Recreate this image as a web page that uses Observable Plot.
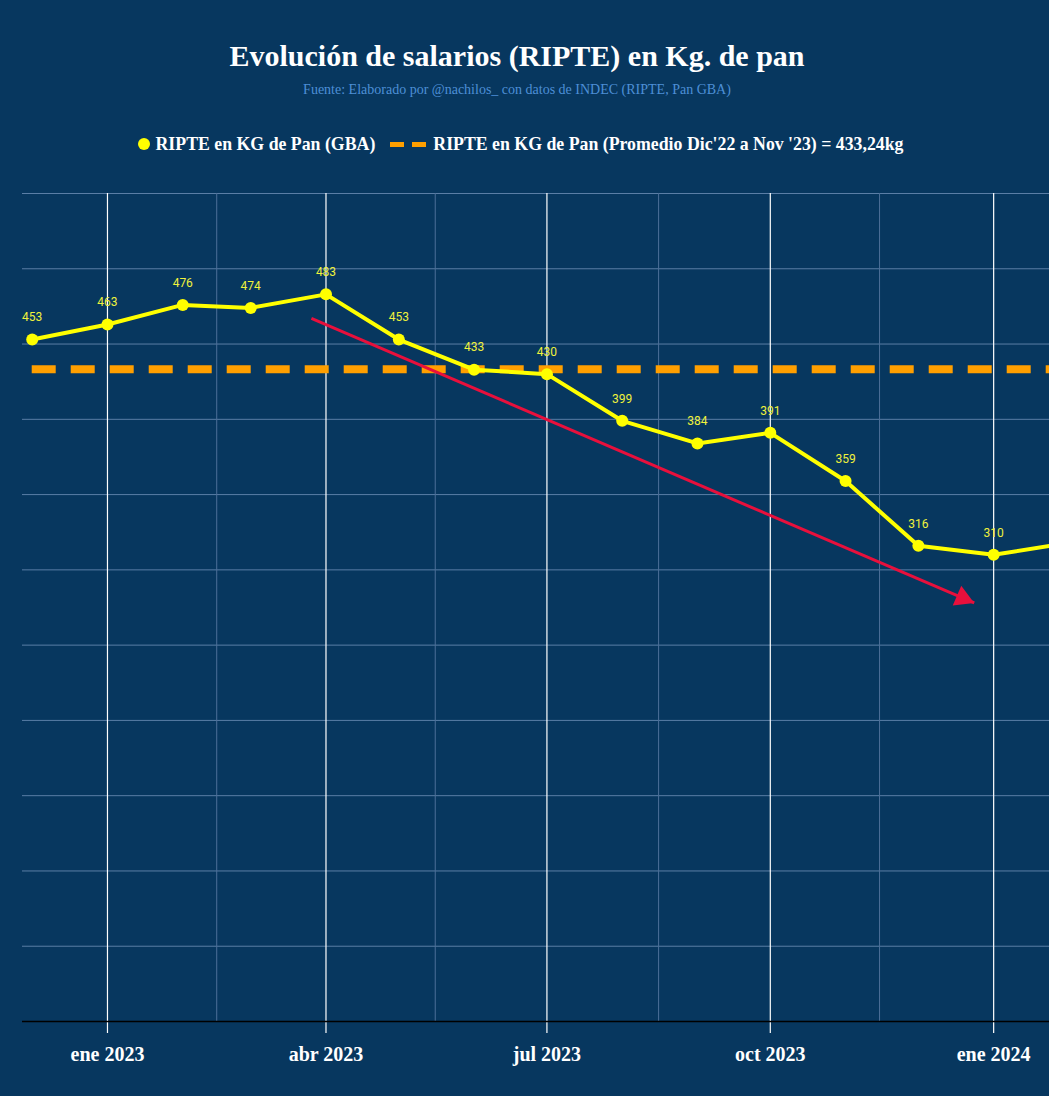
<!DOCTYPE html>
<html><head><meta charset="utf-8">
<script src="https://cdn.jsdelivr.net/npm/d3@7"></script>
<script src="https://cdn.jsdelivr.net/npm/@observablehq/plot@0.6"></script>
<style>
html,body{margin:0;padding:0;background:#07375f;overflow:hidden;width:1049px;height:1096px}
#hdr{height:170px;position:relative;font-family:"Liberation Serif","Times New Roman",serif;color:#fff}
#title{position:absolute;top:38px;left:0;width:1034px;text-align:center;font-weight:bold;font-size:30px;line-height:36px}
#sub{position:absolute;top:81px;left:0;width:1034px;text-align:center;font-size:14px;line-height:18px;color:#4d8fd6}
#legend{position:absolute;top:132px;left:0;width:1040px;display:flex;justify-content:center;align-items:center;font-weight:bold;font-size:17.8px;line-height:24px}
#legend .item{display:flex;align-items:center}
#legend svg{margin-right:5px}
#chart{position:absolute;top:170px;left:0}
</style>
</head><body>
<div id="hdr">
  <div id="title">Evolución de salarios (RIPTE) en Kg. de pan</div>
  <div id="sub">Fuente: Elaborado por @nachilos_ con datos de INDEC (RIPTE, Pan GBA)</div>
  <div id="legend">
    <div class="item"><svg width="14" height="14"><circle cx="7" cy="7" r="6" fill="#ffff00"/></svg><span>RIPTE en KG de Pan (GBA)</span></div>
    <div class="item" style="margin-left:15px"><svg width="38" height="8"><rect x="0" y="2" width="14" height="5" fill="#ff9f00"/><rect x="22" y="2" width="14" height="5" fill="#ff9f00"/></svg><span>RIPTE en KG de Pan (Promedio Dic'22 a Nov '23) = 433,24kg</span></div>
  </div>
</div>
<div id="chart"></div>
<script>
const months = ["2022-12-01","2023-01-01","2023-02-01","2023-03-01","2023-04-01","2023-05-01","2023-06-01","2023-07-01","2023-08-01","2023-09-01","2023-10-01","2023-11-01","2023-12-01","2024-01-01","2024-02-01"];
const values = [453,463,476,474,483,453,433,430,399,384,391,359,316,310,318];
const average = 433.24;
const averageSpan = ["2022-12-01","2024-02-01"];
const xTicks = ["2023-01-01","2023-04-01","2023-07-01","2023-10-01","2024-01-01"];
const xTickLabels = ["ene 2023","abr 2023","jul 2023","oct 2023","ene 2024"];
const xMinor = ["2023-02-15","2023-05-16","2023-08-16","2023-11-15"];
const yGrid = [0,50,100,150,200,250,300,350,400,450,500,550];
const trendFrom = {date:"2023-03-26", value:467};
const trendTo = {date:"2023-12-24", value:278};

const D = s => new Date(s + "T00:00:00Z");
const xDomain = [D("2022-11-27"), D("2024-01-24")];
const data = months.map((m,i)=>({date:D(m), value:values[i]}));
const visible = data.filter(d => d.date <= xDomain[1]);
const labelMap = new Map(xTicks.map((t,i)=>[D(t).getTime(), xTickLabels[i]]));
const trend = [{x1:D(trendFrom.date), y1:trendFrom.value, x2:D(trendTo.date), y2:trendTo.value}];

const chart = Plot.plot({
  width:1049, height:926,
  marginLeft:22, marginRight:0, marginTop:23, marginBottom:75,
  style:{background:"transparent", color:"#ffffff", fontFamily:"'Liberation Serif', serif", fontSize:"20px", fontWeight:"bold", overflow:"visible"},
  x:{type:"utc", domain:xDomain},
  y:{domain:[0,550], axis:null},
  marks:[
    Plot.ruleY(yGrid, {stroke:"#5a7ea6", strokeWidth:1}),
    Plot.ruleX(xMinor.map(D), {y1:0, y2:550, stroke:"#4d7099", strokeWidth:1}),
    Plot.ruleX(xTicks.map(D), {y1:0, y2:550, stroke:"#ffffff", strokeWidth:1.2}),
    Plot.axisX(xTicks.map(D), {tickSize:12, tickPadding:13, stroke:"#ffffff", strokeWidth:1.2, tickFormat:d=>labelMap.get(d.getTime()), fontSize:20, fontWeight:"bold", fontFamily:"'Liberation Serif', serif", fill:"#ffffff"}),
    Plot.ruleY([0], {stroke:"#000000", strokeWidth:1.5}),
    Plot.ruleY([average], {x1:D(averageSpan[0]), x2:D(averageSpan[1]), stroke:"#ff9f00", strokeWidth:8, strokeDasharray:"24 15", clip:true}),
    Plot.line(data, {x:"date", y:"value", stroke:"#ffff00", strokeWidth:4, clip:true}),
    Plot.dot(data, {x:"date", y:"value", r:6, fill:"#ffff00", clip:true}),
    Plot.text(visible, {x:"date", y:"value", text:d=>String(d.value), dy:-22, fill:"#f0f23c", fontSize:12, fontFamily:"Roboto", fontWeight:"normal"}),
    Plot.link(trend, {x1:"x1", y1:"y1", x2:"x2", y2:"y2", stroke:"#e8103c", strokeWidth:3}),
    Plot.dot(trend, {x:"x2", y:"y2", symbol:"triangle", r:8, fill:"#e8103c", rotate:113.3, dx:-11.5, dy:-5})
  ]
});
document.getElementById("chart").appendChild(chart);
</script>
</body></html>
